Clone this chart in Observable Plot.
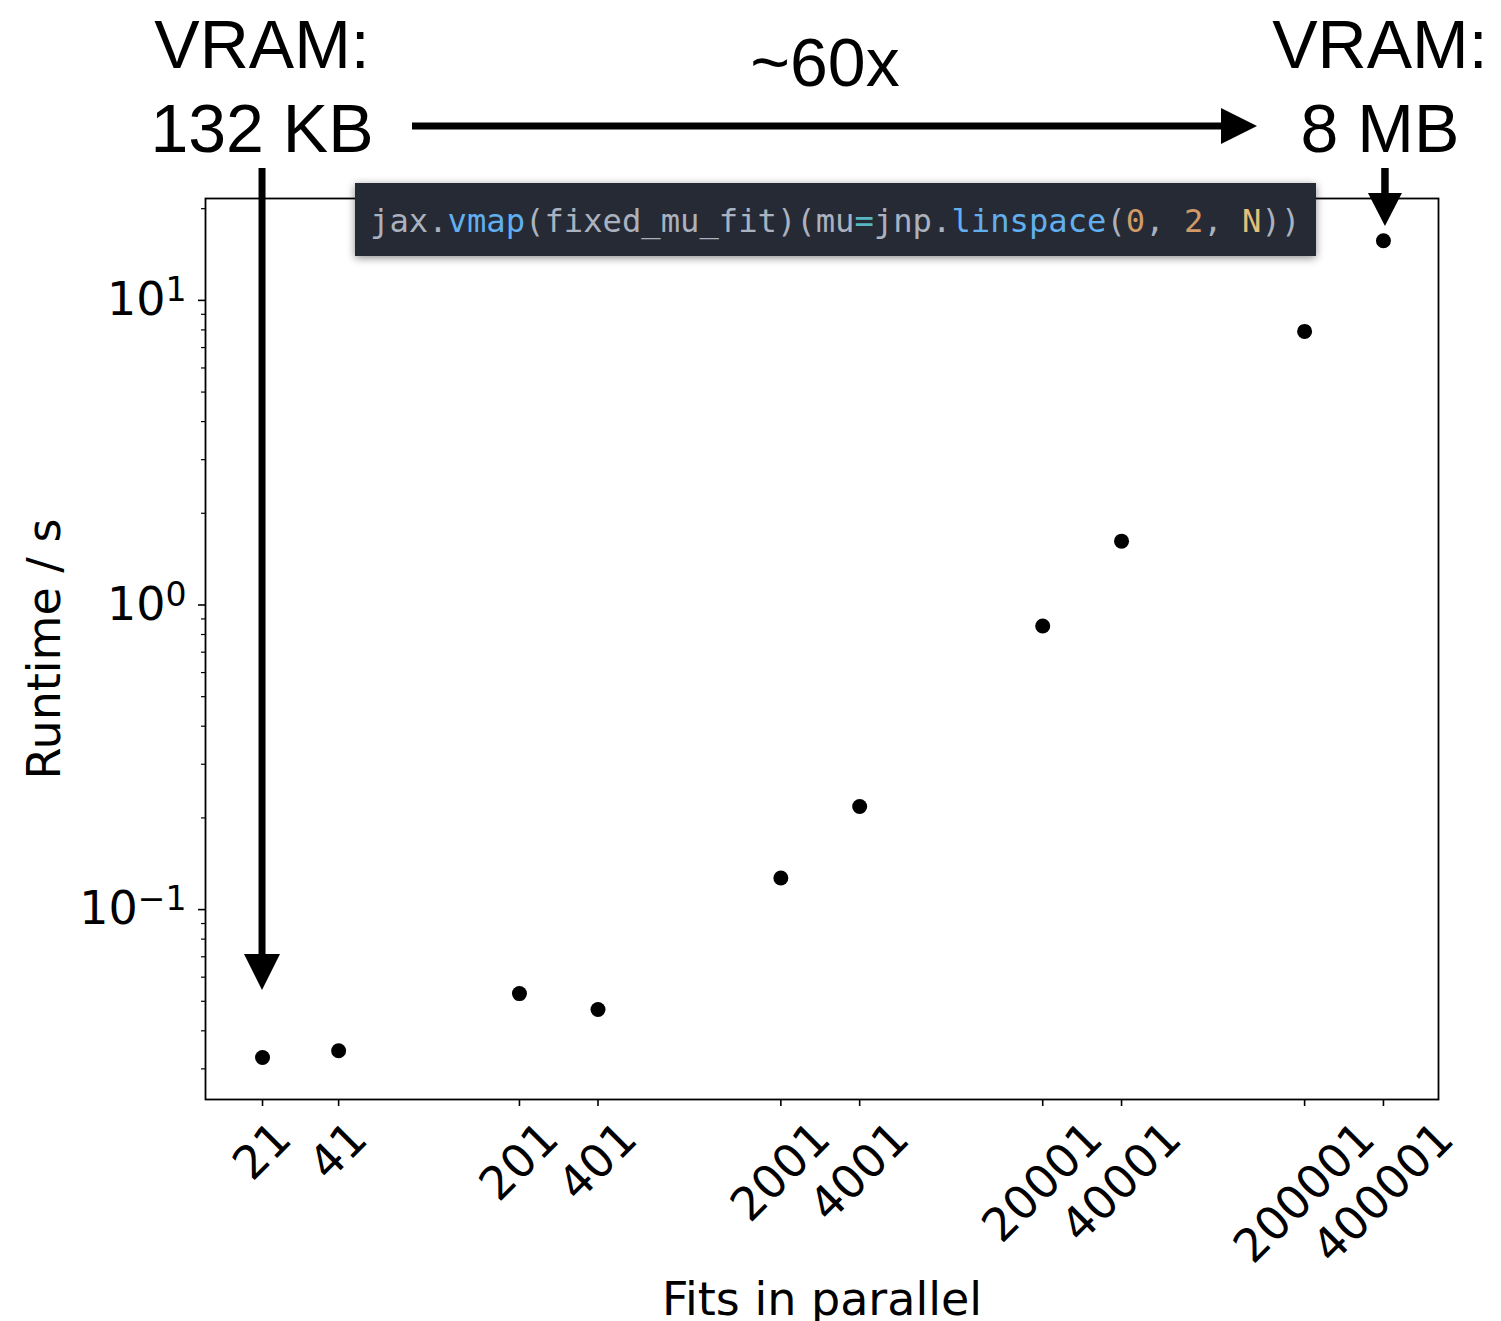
<!DOCTYPE html>
<html><head><meta charset="utf-8">
<script src="https://cdn.jsdelivr.net/npm/d3@7"></script>
<script src="https://cdn.jsdelivr.net/npm/@observablehq/plot@0.6"></script>
<style>
html,body{margin:0;padding:0;background:#fff;}
#chart{width:1501px;height:1321px;}
</style></head><body><div id="chart"></div>
<script>
// ---- data ----
const fits = [21, 41, 201, 401, 2001, 4001, 20001, 40001, 200001, 400001];
const runtime = [0.0327, 0.0344, 0.053, 0.047, 0.127, 0.218, 0.853, 1.62, 7.91, 15.7];
const yMajorTicks = [0.1, 1, 10];
const yTickExponents = ["−1", "0", "1"];
const yMinorTicks = [0.03, 0.04, 0.05, 0.06, 0.07, 0.08, 0.09,
                     0.2, 0.3, 0.4, 0.5, 0.6, 0.7, 0.8, 0.9,
                     2, 3, 4, 5, 6, 7, 8, 9, 20];
const xLabel = "Fits in parallel";
const yLabel = "Runtime / s";
const vramLeft = ["VRAM:", "132 KB"];
const vramRight = ["VRAM:", "8 MB"];
const speedup = "~60x";
const codeTokens = [["jax.", "plain"], ["vmap", "fn"], ["(fixed_mu_fit)(mu", "plain"], ["=", "op"],
  ["jnp.", "plain"], ["linspace", "fn"], ["(", "plain"], ["0", "num"], [", ", "plain"],
  ["2", "num"], [", ", "plain"], ["N", "const"], ["))", "plain"]];

// ---- styles ----
const codeColors = {plain: "#abb2bf", fn: "#61afef", op: "#56b6c2", num: "#d19a66", const: "#e5c07b"};
const table = fits.map((f, i) => ({fits: f, runtime: runtime[i]}));
const yExpMap = new Map(yMajorTicks.map((t, i) => [t, yTickExponents[i]]));
const lengths = [...new Set(fits.map(f => String(f).length))];

const plot = Plot.plot({
  width: 1501, height: 1321,
  marginTop: 198, marginRight: 63, marginBottom: 222, marginLeft: 205,
  style: {fontFamily: "DejaVu Sans", fontSize: "46px", color: "#000", background: "#fff", overflow: "visible"},
  x: {type: "log", domain: [12.72, 649000]},
  y: {type: "log", domain: [0.0238, 21.6]},
  marks: [
    Plot.frame({stroke: "#000", strokeWidth: 1.8}),
    Plot.axisY(yMinorTicks, {tickSize: 4, tickFormat: () => "", strokeWidth: 1.2, label: null}),
    Plot.axisY(yMajorTicks, {tickSize: 7, tickPadding: 12, tickFormat: d => "10^" + yExpMap.get(d), strokeWidth: 1.6, fontSize: 46, label: null}),
    Plot.axisX(fits, {tickSize: 7, tickFormat: () => "", strokeWidth: 1.6, label: null}),
    ...lengths.map(L => Plot.text(fits.filter(f => String(f).length === L), {
      x: d => d, text: d => String(d), frameAnchor: "bottom",
      rotate: -45, textAnchor: "middle", lineAnchor: "middle",
      dy: 52 + (L - 2) * 10.4, fontSize: 46
    })),
    Plot.dot(table, {x: "fits", y: "runtime", r: 7.5, fill: "#000"}),
    Plot.text([yLabel], {text: d => d, frameAnchor: "left", dx: -160, rotate: -90, lineAnchor: "middle", textAnchor: "middle", fontSize: 46}),
    Plot.text([xLabel], {text: d => d, frameAnchor: "bottom", dy: 201, lineAnchor: "middle", textAnchor: "middle", fontSize: 46})
  ]
});
document.getElementById("chart").appendChild(plot);

const svg = d3.select(plot);

// superscript exponents on the y tick labels
svg.selectAll("text").each(function () {
  const s = this.textContent;
  const m = /^10\^(.+)$/.exec(s);
  if (!m) return;
  const el = d3.select(this);
  el.text(null);
  el.append("tspan").text("10");
  el.append("tspan").attr("dy", "-0.42em").attr("font-size", "0.72em").text(m[1]);
});

// ---- annotations (positioned via the x scale) ----
const xs = plot.scale("x").apply;
const g = svg.append("g").attr("text-anchor", "middle");
const defs = svg.append("defs");
const f = defs.append("filter").attr("id", "shadow").attr("x", "-5%").attr("y", "-30%").attr("width", "110%").attr("height", "160%");
f.append("feDropShadow").attr("dx", 0).attr("dy", 2).attr("stdDeviation", 4).attr("flood-color", "#000").attr("flood-opacity", 0.45);

const helv = "'Liberation Sans', Arial, Helvetica, sans-serif";
const xl = xs(21), xr = xs(400001);
function label(lines, x) {
  g.append("text").attr("x", x).attr("y", 68).attr("text-anchor", "middle")
    .attr("font-family", helv).attr("font-size", 68).attr("fill", "#000").text(lines[0]);
  g.append("text").attr("x", x).attr("y", 152).attr("text-anchor", "middle")
    .attr("font-family", helv).attr("font-size", 68).attr("fill", "#000").text(lines[1]);
}
label(vramLeft, xl);
label(vramRight, xr - 3);
g.append("text").attr("x", 825).attr("y", 86).attr("text-anchor", "middle")
  .attr("font-family", helv).attr("font-size", 68).attr("fill", "#000").text(speedup);

function arrow(x1, y1, x2, y2, w, headLen, headW) {
  const dx = x2 - x1, dy = y2 - y1, len = Math.hypot(dx, dy);
  const ux = dx / len, uy = dy / len, px = -uy, py = ux;
  const bx = x2 - ux * headLen, by = y2 - uy * headLen;
  g.append("line").attr("x1", x1).attr("y1", y1).attr("x2", bx + ux).attr("y2", by + uy)
    .attr("stroke", "#000").attr("stroke-width", w);
  g.append("path").attr("d", `M${x2},${y2}L${bx + px * headW / 2},${by + py * headW / 2}L${bx - px * headW / 2},${by - py * headW / 2}Z`)
    .attr("fill", "#000");
}
arrow(412, 126, 1257, 126, 7, 36, 36);
arrow(xl, 168, xl, 990, 7, 36, 36);
arrow(xr + 2, 168, xr + 2, 226, 7.5, 33, 34);

// code box
const box = svg.append("g").attr("text-anchor", "start");
box.append("rect").attr("x", 355).attr("y", 183).attr("width", 961).attr("height", 73)
  .attr("fill", "#282c34").attr("filter", "url(#shadow)");
const t = box.append("text").attr("x", 370).attr("y", 232).attr("text-anchor", "start")
  .attr("font-family", "'DejaVu Sans Mono', 'Liberation Mono', monospace").attr("font-size", 32.2)
  .attr("xml:space", "preserve").style("white-space", "pre");
codeTokens.forEach(([s, k]) => t.append("tspan").attr("fill", codeColors[k]).text(s));
</script></body></html>
